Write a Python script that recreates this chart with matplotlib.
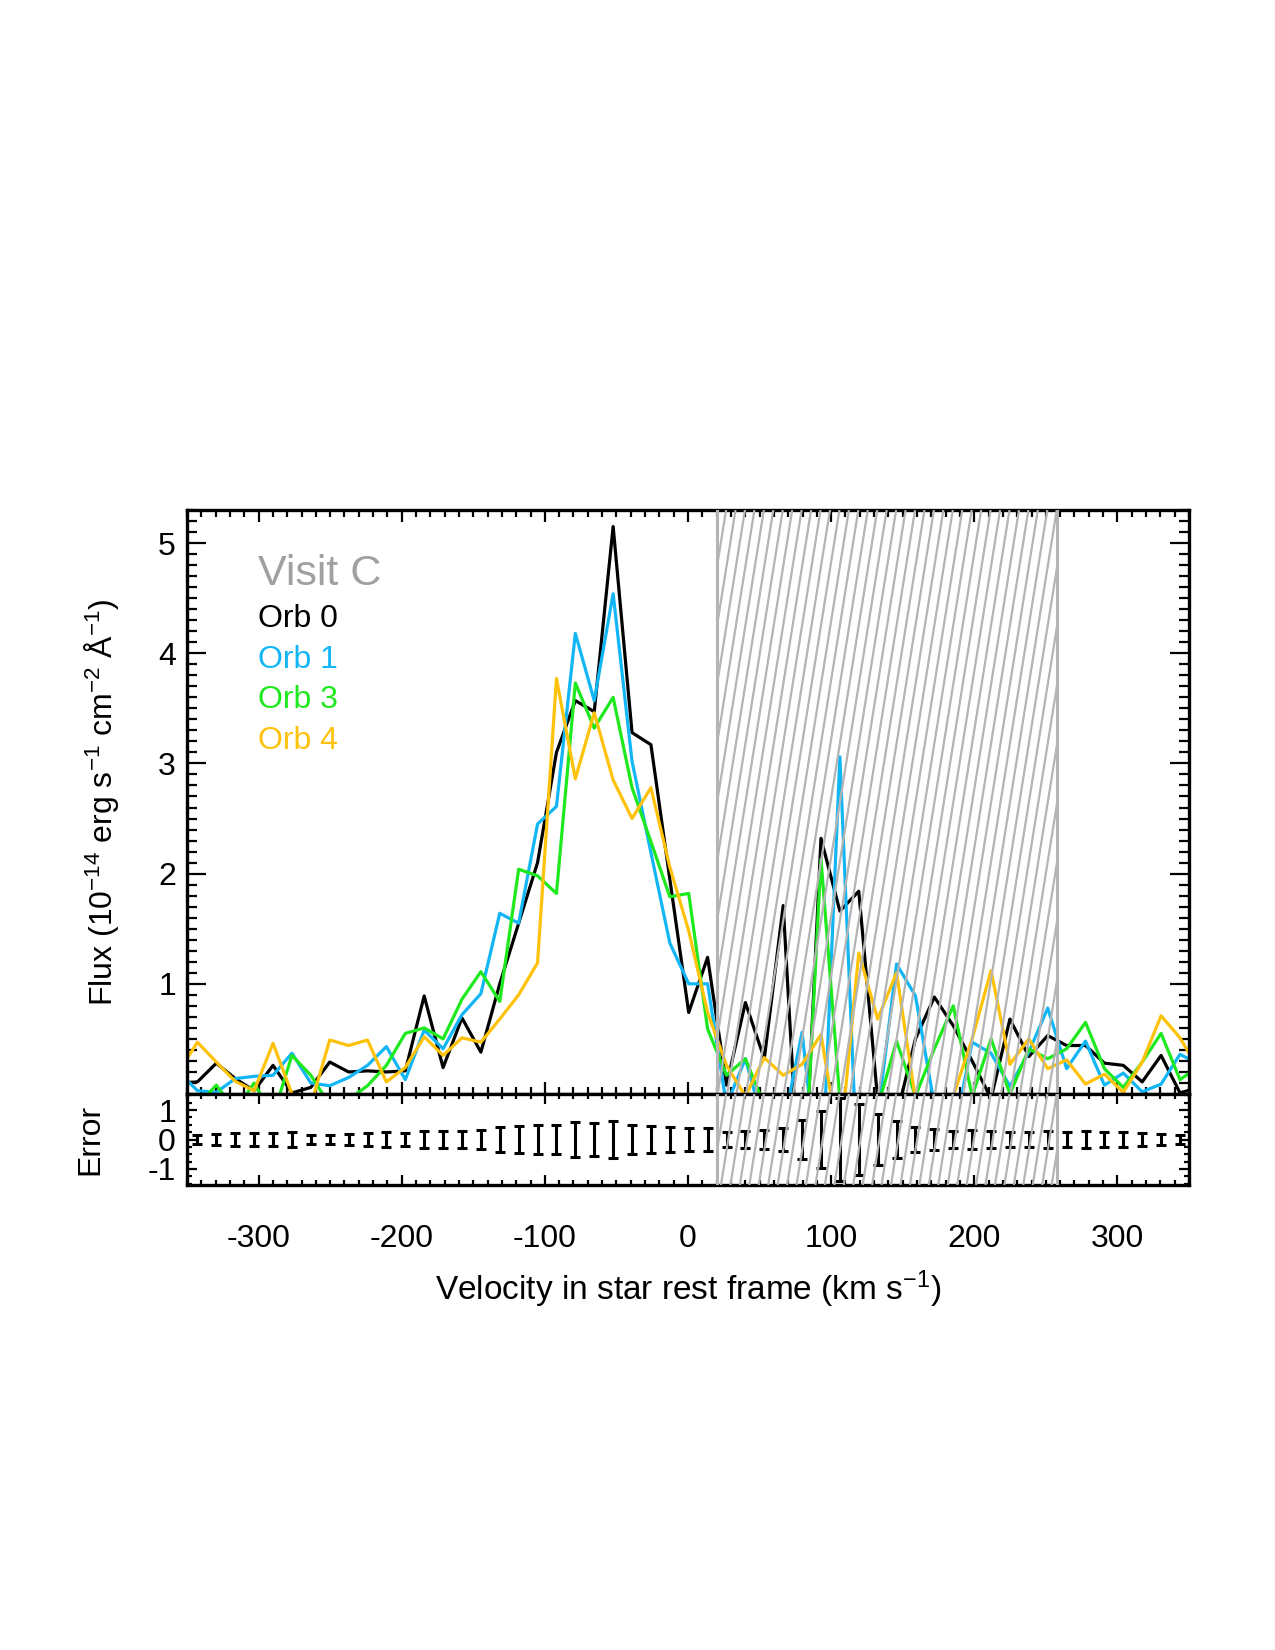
import matplotlib
matplotlib.use('Agg')
import matplotlib.pyplot as plt
import numpy as np
from matplotlib.collections import LineCollection
from matplotlib.patches import Rectangle

plt.rcParams['font.family'] = ['Liberation Sans', 'DejaVu Sans']
plt.rcParams['mathtext.fontset'] = 'custom'
plt.rcParams['mathtext.rm'] = 'Liberation Sans'
plt.rcParams['mathtext.default'] = 'regular'
plt.rcParams['axes.unicode_minus'] = False

# velocity grid (km/s), one value per spectral bin
vel = [-355.9, -342.7, -329.5, -316.3, -303.1, -289.9, -276.7, -263.5, -250.3, -237.1,
       -223.9, -210.7, -197.5, -184.3, -171.1, -157.9, -144.7, -131.5, -118.3, -105.1,
       -91.9, -78.7, -65.5, -52.3, -39.1, -25.9, -12.7, 0.5, 13.7, 26.9,
       40.1, 53.3, 66.5, 79.7, 92.9, 106.1, 119.3, 132.5, 145.7, 158.9,
       172.1, 185.3, 198.5, 211.7, 224.9, 238.1, 251.3, 264.5, 277.7, 290.9,
       304.1, 317.3, 330.5, 343.7, 356.9]

orb0 = [0.10, 0.11, 0.28, 0.14, 0.03, 0.26, 0.01, 0.06, 0.29, 0.20,
        0.21, 0.20, 0.21, 0.89, 0.24, 0.69, 0.38, 1.00, 1.55, 2.10,
        3.10, 3.57, 3.47, 5.15, 3.28, 3.17, 1.95, 0.74, 1.24, 0.08,
        0.83, 0.32, 1.71, -1.30, 2.32, 1.66, 1.84, -0.05, -0.20, 0.50,
        0.88, 0.62, 0.30, -0.04, 0.68, 0.34, 0.53, 0.44, 0.44, 0.28,
        0.26, 0.11, 0.35, 0.01, 0.06]

orb1 = [0.20, 0.03, 0.015, 0.14, 0.16, 0.17, 0.37, 0.10, 0.075, 0.15,
        0.26, 0.43, 0.13, 0.58, 0.41, 0.72, 0.91, 1.64, 1.55, 2.45,
        2.61, 4.18, 3.57, 4.54, 3.02, 2.19, 1.37, 1.00, 1.00, -0.10,
        0.32, -0.30, -0.30, 0.56, -1.00, 3.06, -1.00, -0.20, 1.18, 0.89,
        -0.10, -0.40, 0.47, 0.37, 0.07, 0.38, 0.78, 0.23, 0.48, 0.08,
        0.19, 0.02, 0.09, 0.36, 0.27]

orb3 = [-0.20, -0.10, 0.08, -0.15, 0.10, -0.20, 0.35, 0.17, -0.10, -0.05,
        0.075, 0.26, 0.55, 0.60, 0.50, 0.86, 1.11, 0.84, 2.04, 1.98,
        1.82, 3.73, 3.32, 3.60, 2.78, 2.29, 1.79, 1.82, 0.59, 0.17,
        0.32, -0.10, -0.80, -1.20, 2.13, -0.05, -0.50, -0.12, 0.48, -0.02,
        0.41, 0.80, -0.02, 0.50, 0.00, 0.41, 0.32, 0.41, 0.65, 0.23,
        0.06, 0.29, 0.55, 0.13, 0.25]

orb4 = [0.20, 0.47, 0.29, 0.115, 0.03, 0.46, 0.00, -0.10, 0.49, 0.44,
        0.49, 0.11, 0.24, 0.52, 0.35, 0.51, 0.47, 0.68, 0.90, 1.19,
        3.77, 2.86, 3.46, 2.85, 2.50, 2.78, 2.06, 1.48, 0.74, 0.26,
        -0.02, 0.33, 0.17, 0.27, 0.54, -0.50, 1.28, 0.68, 1.10, -0.05,
        -0.30, -0.02, 0.50, 1.12, 0.27, 0.50, 0.23, 0.31, 0.09, 0.18,
        0.015, 0.29, 0.71, 0.51, 0.22]

# 1-sigma errors for the bins inside the plotted range
err_vel = vel[1:-1]
err = [0.17, 0.20, 0.22, 0.22, 0.22, 0.25, 0.16, 0.16, 0.20, 0.23,
       0.25, 0.23, 0.29, 0.29, 0.30, 0.34, 0.41, 0.45, 0.50, 0.51,
       0.61, 0.55, 0.63, 0.51, 0.46, 0.42, 0.40, 0.38, 0.25, 0.30,
       0.32, 0.40, 0.68, 0.98, 1.41, 1.21, 0.88, 0.64, 0.44, 0.36,
       0.30, 0.32, 0.28, 0.25, 0.25, 0.28, 0.25, 0.28, 0.25, 0.24,
       0.21, 0.19, 0.17]

orbits = ['Orb 0', 'Orb 1', 'Orb 3', 'Orb 4']
colors = ['black', '#12b6f5', '#1ee81e', '#ffc20a']
excluded = (20.0, 258.0)

W, H = 1275, 1650
fig = plt.figure(figsize=(W / 100, H / 100), dpi=100)
left, width = 187 / W, 1002 / W
ax = fig.add_axes([left, 1 - 1094 / H, width, 584 / H])
axe = fig.add_axes([left, 1 - 1185 / H, width, 91 / H])

gray = '#b4b4b4'


def hatch(a, h_px):
    lo, hi = excluded
    px_per_kms = width * W / 700.0
    shift = 0.16 * h_px / px_per_kms
    tr = a.get_xaxis_transform()
    segs = [[(s, 0), (s + shift, 1)] for s in np.arange(lo - shift, hi, 6.6)]
    lc = LineCollection(segs, colors=gray, linewidths=1.6, transform=tr, zorder=3)
    a.add_collection(lc, autolim=False)
    lc.set_clip_path(Rectangle((lo, 0), hi - lo, 1, transform=tr))
    for x in excluded:
        a.axvline(x, color=gray, lw=2.2, zorder=3)


for flux, c in zip([orb0, orb1, orb3, orb4], colors):
    ax.plot(vel, flux, color=c, lw=2.3, zorder=2)
hatch(ax, 584)

axe.errorbar(err_vel, np.zeros(len(err)), yerr=err, fmt='none', ecolor='black',
             elinewidth=2.2, capsize=3.5, capthick=2.2, zorder=2)
hatch(axe, 91)

ax.text(0.071, 0.891, 'Visit C', transform=ax.transAxes, fontsize=31,
        color='#a0a0a0', va='center', ha='left')
for i, (name, c) in enumerate(zip(orbits, colors)):
    ax.text(0.071, 0.813 - 0.0695 * i, name, transform=ax.transAxes, fontsize=23,
            color=c, va='center', ha='left')

for a in (ax, axe):
    a.set_xlim(-350, 350)
    a.set_xticks([-300, -200, -100, 0, 100, 200, 300])
    a.set_xticks(np.arange(-350, 351, 10), minor=True)
    for s in a.spines.values():
        s.set_linewidth(2.4)
    a.tick_params(which='both', direction='in', top=True, right=True, width=1.6,
                  labelsize=23)

ax.set_ylim(0, 5.3)
ax.set_yticks([1, 2, 3, 4, 5])
ax.set_yticks(np.arange(0, 5.31, 0.1), minor=True)
ax.tick_params(axis='x', which='major', length=8.5, labelbottom=False)
ax.tick_params(axis='x', which='minor', length=5)
ax.tick_params(axis='y', which='major', length=14, pad=8)
ax.tick_params(axis='y', which='minor', length=7)
ax.set_ylabel('Flux (10$^{-14}$ erg s$^{-1}$ cm$^{-2}$ Å$^{-1}$)', fontsize=23)
ax.yaxis.set_label_coords(-0.066, 0.5)

axe.set_ylim(-1.55, 1.55)
axe.set_yticks([-1, 0, 1])
axe.set_yticks(np.arange(-1.5, 1.51, 0.25), minor=True)
axe.tick_params(axis='x', which='major', length=7, pad=28)
axe.tick_params(axis='x', which='minor', length=3.6)
axe.tick_params(axis='y', which='major', length=7, pad=8)
axe.tick_params(axis='y', which='minor', length=3.6)
axe.set_ylabel('Error', fontsize=23)
axe.yaxis.set_label_coords(-0.081, 0.5)
axe.set_xlabel('Velocity in star rest frame (km s$^{-1}$)', fontsize=24, va='center')
axe.xaxis.set_label_coords(0.5, -1.143)

fig.savefig('out.png', dpi=100)
